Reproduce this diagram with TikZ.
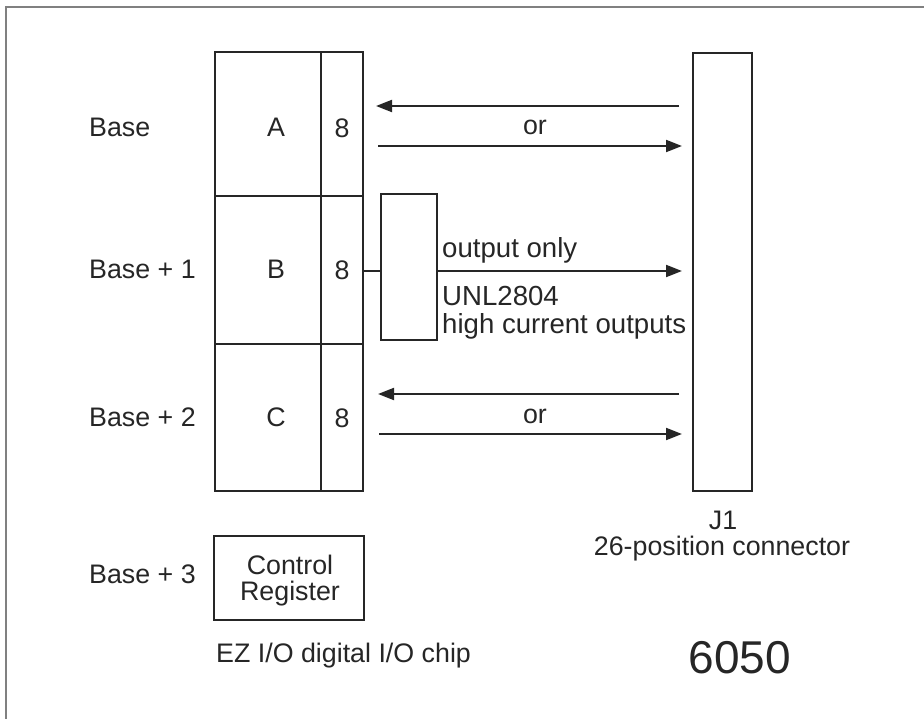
\documentclass[tikz,border=0pt]{standalone}
\usepackage{fontspec}
\setmainfont{Liberation Sans}
\usetikzlibrary{arrows.meta}
\begin{document}
\begin{tikzpicture}[x=1pt,y=-1pt,
  box/.style={draw=black!85, line width=2.3pt},
  lbl/.style={anchor=base, inner sep=0pt, text=black!85, font=\fontsize{26.8}{30}\selectfont},
  lblw/.style={lbl, anchor=base west},
  drv/.style={lblw, font=\fontsize{27.6}{30}\selectfont},
  arr/.style={draw=black!85, line width=2pt, -{Triangle[length=16pt,width=12pt]}},
  wire/.style={draw=black!85, line width=2pt}]
\useasboundingbox (0,0) rectangle (924,719);
\draw[gray, line width=1.5pt] (6,719) -- (6,7) -- (924,7);
% chip registers
\draw[box] (215,52) rectangle (363,491);
\draw[box] (321,52) -- (321,491);
\draw[box] (215,196) -- (363,196);
\draw[box] (215,344) -- (363,344);
% driver
\draw[box] (381,194) rectangle (437,340);
% connector
\draw[box] (693,53) rectangle (752,491);
% control register
\draw[box] (214,536) rectangle (364,620);
% coordinates
\coordinate (aL) at (376,106); \coordinate (aR) at (679,106);
\coordinate (aL2) at (378,146); \coordinate (aR2) at (682,146);
\coordinate (cL) at (378,394); \coordinate (cR) at (679,394);
\coordinate (cL2) at (379,434); \coordinate (cR2) at (682,434);
\coordinate (bOut) at (363,271); \coordinate (uIn) at (381,271);
\coordinate (uOut) at (437,271); \coordinate (jB) at (682,271);
\draw[arr] (aR) -- (aL);
\draw[arr] (aL2) -- (aR2);
\draw[arr] (cR) -- (cL);
\draw[arr] (cL2) -- (cR2);
\draw[wire] (bOut) -- (uIn);
\draw[arr] (uOut) -- (jB);
% labels
\node[lblw] (base0) at (89,137) {Base};
\node[lblw] (base1) at (89,279) {Base + 1};
\node[lblw] (base2) at (89,426) {Base + 2};
\node[lblw] (base3) at (89,583) {Base + 3};
\node[lbl] (pa) at (276,137) {A};
\node[lbl] (pb) at (276,279) {B};
\node[lbl] (pc) at (276,426) {C};
\node[lbl] (na) at (342,138) {8};
\node[lbl] (nb) at (342,280) {8};
\node[lbl] (nc) at (342,427) {8};
\node[lbl] (orA) at (535,135) {or};
\node[lbl] (orC) at (535,423) {or};
\node[drv] (outonly) at (442,258) {output only};
\node[drv] (unl) at (442,306) {UNL2804};
\node[drv] (hco) at (442,334) {high current outputs};
\node[lbl] (j1) at (723,529) {J1};
\node[lbl] (j1b) at (722,555) {26-position connector};
\node[lbl] (ctl1) at (290,574) {Control};
\node[lbl] (ctl2) at (290,600) {Register};
\node[lblw] (ez) at (216,662) {EZ I/O digital I/O chip};
\node[lbl, font=\fontsize{46}{50}\selectfont] (num) at (740,673) {6050};
\end{tikzpicture}
\end{document}
